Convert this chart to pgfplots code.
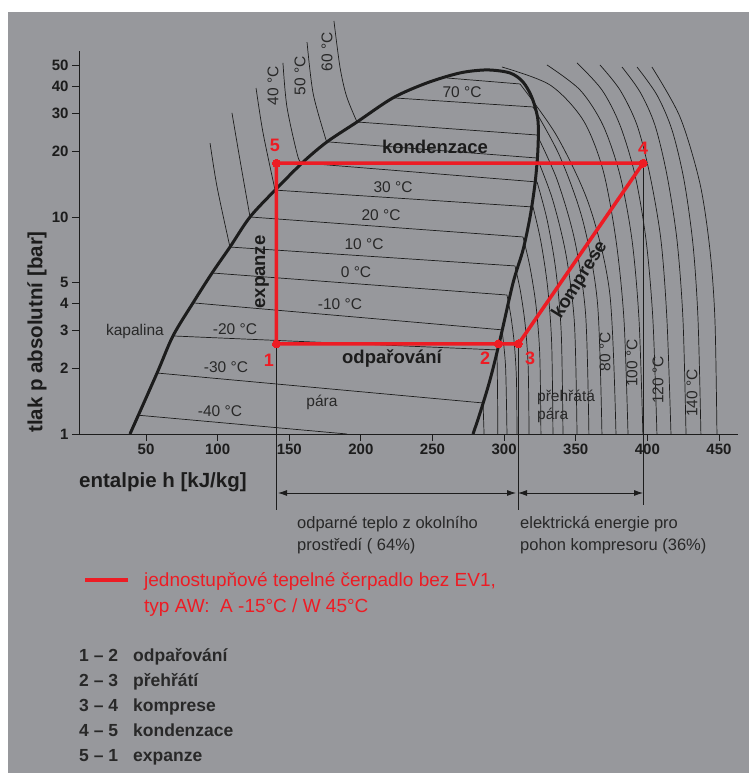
\documentclass[border=0pt]{standalone}
\usepackage{pgfplots}
\pgfplotsset{compat=1.18}
\usepackage{fontspec}
\setmainfont{Liberation Sans}
\usetikzlibrary{arrows.meta}
\definecolor{bg}{RGB}{151,152,156}
\definecolor{cred}{RGB}{237,28,36}
\definecolor{ink}{RGB}{28,28,28}
\definecolor{txt}{RGB}{40,40,40}
\newcommand{\fs}[1]{\fontsize{#1}{#1}\selectfont}
\begin{document}
\begin{tikzpicture}
\useasboundingbox (0,0) rectangle (749pt,773pt);
\fill[white] (0,0) rectangle (749pt,773pt);
\fill[bg] (8pt,0) rectangle (749pt,761pt);
\begin{axis}[
  at={(79pt,339pt)}, anchor=south west,
  scale only axis, width=659pt, height=383pt,
  xmin=3.2, xmax=463.3, ymin=1, ymax=58.2, ymode=log,
  axis x line=bottom, axis y line=left,
  axis line style={-, line width=0.9pt, ink},
  xtick={50,100,150,200,250,300,350,400,450},
  xticklabels={50,100,150,200,250,300,350,400,450},
  ytick={1,2,3,4,5,10,20,30,40,50},
  yticklabels={1,2,3,4,5,10,20,30,40,50},
  yminorticks=false, xminorticks=false,
  tick align=outside, major tick length=7pt,
  tick style={line width=0.8pt, ink},
  ticklabel style={font=\bfseries\fs{15}, text=ink},
  clip=false,
  iso/.style={ink, line width=0.7pt},
  isoc/.style={ink, line width=0.7pt, smooth},
]
% saturation dome
\addplot[ink, line width=3pt, smooth] coordinates {
(38.8,1)(57.7,1.91)(68.8,2.83)(82.8,4.02)(96.1,5.52)(108.6,7.27)(122.6,10)
(140.1,13.3)(159.6,17.9)(176.4,22.2)(197.3,27.4)(222.4,35.4)(246.2,41.5)
(269.2,46.1)(288.0,47.6)(304.1,46.1)(313.2,41.9)(319.5,35.4)(323.6,28.0)
(323.6,20.4)(321.6,14.3)(318.1,10)(313.2,7.05)(306.2,4.96)(297.1,2.71)
(290.1,1.77)(283.2,1.25)(278.3,1)};
% isotherms in wet region
\addplot[iso] coordinates {(44.9,1.22)(190.3,1)};
\addplot[iso] coordinates {(57.7,1.91)(285.3,1.39)};
\addplot[iso] coordinates {(68.8,2.83)(295.0,2.44)};
\addplot[iso] coordinates {(82.8,4.02)(298.5,3.02)};
\addplot[iso] coordinates {(96.1,5.52)(302.0,4.37)};
\addplot[iso] coordinates {(108.6,7.27)(307.6,5.95)};
\addplot[iso] coordinates {(122.6,10)(313.2,8.09)};
\addplot[iso] coordinates {(140.1,13.3)(320.2,11.12)};
\addplot[iso] coordinates {(159.6,17.74)(323.0,14.50)};
\addplot[iso] coordinates {(176.4,22.2)(323.0,18.70)};
\addplot[iso] coordinates {(197.3,27.4)(323.0,23.87)};
\addplot[iso] coordinates {(222.4,35.4)(320.2,32.13)};
\addplot[iso] coordinates {(260.1,43.7)(311.1,41.02)};
% isotherms in liquid region
\addplot[isoc] coordinates {(94.7,21.9)(99.6,13.75)(108.6,7.27)};
\addplot[isoc] coordinates {(110.0,30.2)(115.6,18.3)(122.6,10)};
\addplot[isoc] coordinates {(126.8,39.3)(131.7,24.4)(140.1,13.3)};
\addplot[isoc] coordinates {(145.6,51.3)(148.4,32.1)(156.1,18.9)(159.6,17.74)};
\addplot[isoc] coordinates {(162.4,64.0)(166.6,37.3)(175.0,23.4)(176.4,22.2)};
\addplot[isoc] coordinates {(181.2,80.0)(185.4,49.1)(190.0,36.0)(197.3,27.4)};
% isotherms in superheated region (from dome)
\addplot[iso] coordinates {(285.3,1.39)(286.0,1)};
\addplot[isoc] coordinates {(295.0,2.44)(295.4,1.6)(295.6,1)};
\addplot[isoc] coordinates {(298.5,3.02)(301.0,2.05)(302.0,1)};
\addplot[isoc] coordinates {(302.0,4.37)(304.7,3.50)(307.1,2.61)(308.6,1.80)(309.0,1)};
\addplot[isoc] coordinates {(307.6,5.95)(311.4,4.55)(314.7,3.19)(316.8,2.04)(317.4,1)};
\addplot[isoc] coordinates {(313.2,8.09)(318.0,5.91)(322.3,3.89)(324.9,2.31)(325.7,1)};
\addplot[isoc] coordinates {(320.2,11.12)(325.6,7.75)(330.3,4.79)(333.2,2.62)(334.1,1)};
\addplot[isoc] coordinates {(323.0,14.50)(330.0,9.71)(336.1,5.69)(339.9,2.91)(341.1,1)};
\addplot[isoc] coordinates {(323.0,18.70)(333.8,12.06)(343.2,6.71)(349.1,3.23)(350.9,1)};
\addplot[isoc] coordinates {(323.0,23.87)(337.0,14.83)(349.2,7.86)(356.9,3.56)(359.2,1)};
\addplot[isoc] coordinates {(320.2,32.13)(338.8,19.1)(355.1,9.54)(365.2,4.01)(368.3,1)};
\addplot[isoc] coordinates {(311.1,41.02)(337.0,23.5)(359.7,11.18)(373.8,4.42)(378.1,1)};
% isotherms in superheated region (from top)
\addplot[isoc] coordinates {(298.5,49.1)(332.0,40.6)(355.1,28.0)(369.0,16.5)(378.1,7.83)(383.7,3.35)(386.5,1)};
\addplot[isoc] coordinates {(329.9,50.2)(353.0,38.5)(369.0,26.5)(380.9,15.6)(389.3,7.83)(394.2,3.35)(396.9,1)};
\addplot[isoc] coordinates {(350.9,51.3)(368.3,38.5)(380.9,26.5)(391.4,15.6)(399.1,7.83)(403.9,3.35)(406.7,1)};
\addplot[isoc] coordinates {(366.9,50.2)(380.9,38.5)(392.8,26.5)(401.8,15.6)(409.5,7.83)(413.7,3.35)(416.5,1)};
\addplot[isoc] coordinates {(382.3,49.1)(394.9,37.7)(405.3,26.5)(413.7,15.6)(420.7,7.83)(424.9,3.35)(427.0,1)};
\addplot[isoc] coordinates {(392.8,49.1)(406.7,36.5)(417.2,25.2)(425.6,14.8)(431.9,7.43)(435.4,3.35)(437.4,1)};
\addplot[isoc] coordinates {(403.2,49.1)(422.8,28.9)(436.7,14.3)(443.7,7.05)(447.2,3.35)(448.6,1)};
% vertical markers
\addplot[ink, line width=0.8pt] coordinates {(141,2.6)(141,0.447)};
\addplot[ink, line width=0.8pt] coordinates {(310,2.6)(310,0.447)};
\addplot[ink, line width=0.8pt] coordinates {(397,17.7)(397,0.471)};
% heat pump cycle
\addplot[cred, line width=3.5pt, line join=round, mark=*, mark size=4pt, mark options={cred, line width=0pt}]
  coordinates {(141,2.6)(296,2.6)(310,2.6)(397,17.7)(141,17.7)(141,2.6)};
\end{axis}
\begin{scope}[x=1pt, y=-1pt, yshift=773pt]
\node[font=\bfseries\fs{20.5}, text=ink, anchor=base west, inner sep=0pt] at (79,488) {entalpie h [kJ/kg]};
\node[font=\bfseries\fs{20.5}, text=ink, rotate=90, inner sep=0pt] at (37,332) {tlak p absolutní [bar]};
\begin{scope}[every node/.style={font=\fs{15.5}, text=txt, inner sep=0pt, anchor=base}]
\node at (135,336) {kapalina};
\node at (235,335) {-20 °C};
\node at (226,373) {-30 °C};
\node at (220,417) {-40 °C};
\node at (340,310) {-10 °C};
\node at (356,278) {0 °C};
\node at (364,250) {10 °C};
\node at (381,221) {20 °C};
\node at (393,193) {30 °C};
\node at (462,98) {70 °C};
\node at (322,407) {pára};
\end{scope}
\begin{scope}[every node/.style={font=\fs{15.5}, text=txt, inner sep=0pt}]
\node[rotate=90] at (273,86) {40 °C};
\node[rotate=90] at (300,76) {50 °C};
\node[rotate=90] at (327,52) {60 °C};
\node[rotate=90] at (605,352) {80 °C};
\node[rotate=90] at (632,363) {100 °C};
\node[rotate=90] at (658,380) {120 °C};
\node[rotate=90] at (692,393) {140 °C};
\node[anchor=base west] at (537,402) {přehřátá};
\node[anchor=base west] at (537,420) {pára};
\end{scope}
\begin{scope}[every node/.style={font=\bfseries\fs{18.5}, text=ink, inner sep=0pt}]
\node[anchor=base] at (435,154) {kondenzace};
\node[anchor=base] at (392,364) {odpařování};
\node[rotate=90] at (262,272) {expanze};
\node[rotate=58] at (580,280) {komprese};
\end{scope}
\begin{scope}[every node/.style={font=\bfseries\fs{18}, text=cred, inner sep=0pt}]
\node at (269,360) {1};
\node at (485,358) {2};
\node at (530,358) {3};
\node at (643,148) {4};
\node at (275,145) {5};
\end{scope}
\draw[ink, line width=0.8pt, {Latex[length=9pt,width=6pt]}-{Latex[length=9pt,width=6pt]}] (278,493) -- (516,493);
\draw[ink, line width=0.8pt, {Latex[length=9pt,width=6pt]}-{Latex[length=9pt,width=6pt]}] (518,493) -- (643,493);
\begin{scope}[every node/.style={font=\fs{16.5}, text=txt, anchor=base west, inner sep=0pt}]
\node at (297,529) {odparné teplo z okolního};
\node at (297,551) {prostředí ( 64\%)};
\node at (520,529) {elektrická energie pro};
\node at (520,551) {pohon kompresoru (36\%)};
\end{scope}
\draw[cred, line width=4pt] (85,580) -- (128,580);
\begin{scope}[every node/.style={font=\fs{19}, text=cred, anchor=base west, inner sep=0pt}]
\node at (144,587) {jednostupňové tepelné čerpadlo bez EV1,};
\node at (144,613) {typ AW:\ \ A -15°C / W 45°C};
\end{scope}
\begin{scope}[every node/.style={font=\bfseries\fs{17.5}, text=txt, anchor=base west, inner sep=0pt}]
\node at (79,662) {1 – 2}; \node at (133,662) {odpařování};
\node at (79,687) {2 – 3}; \node at (133,687) {přehřátí};
\node at (79,712) {3 – 4}; \node at (133,712) {komprese};
\node at (79,737) {4 – 5}; \node at (133,737) {kondenzace};
\node at (79,762) {5 – 1}; \node at (133,762) {expanze};
\end{scope}
\end{scope}
\end{tikzpicture}
\end{document}
